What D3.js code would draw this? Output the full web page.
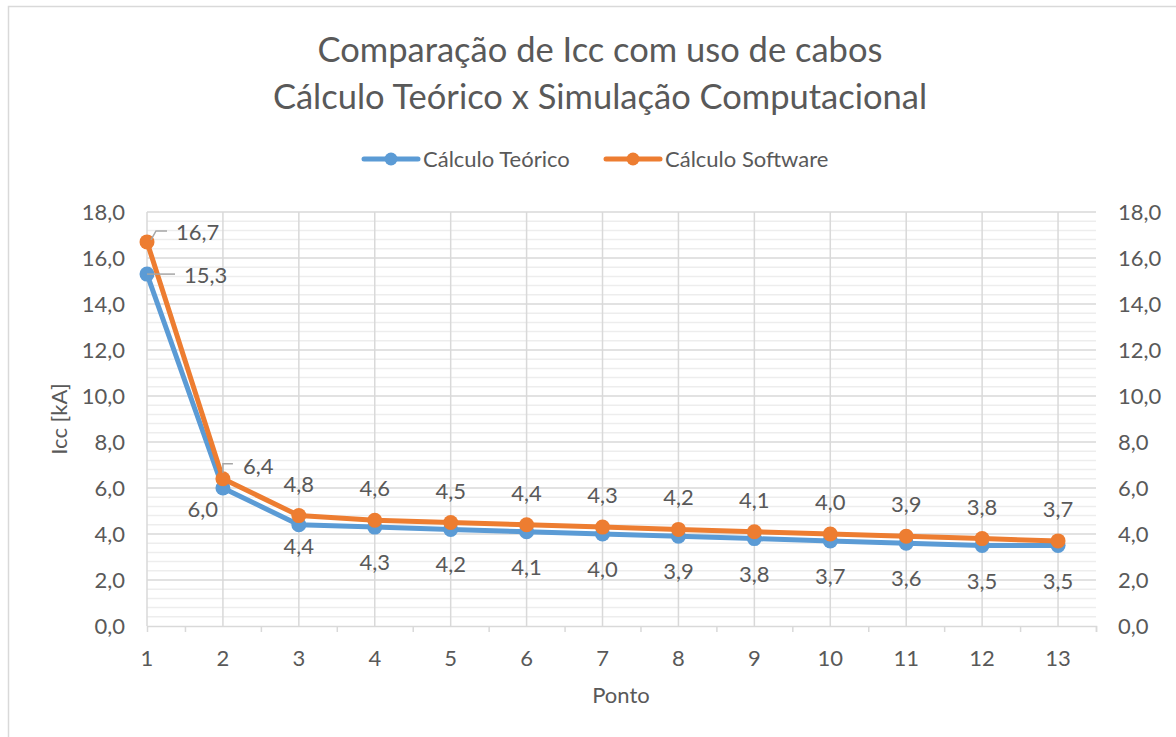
<!DOCTYPE html>
<html>
<head>
<meta charset="utf-8">
<script src="https://cdn.jsdelivr.net/npm/d3@7"></script>
<style>
html,body{margin:0;padding:0;background:#fff;}
svg{display:block;font-family:Lato,"Open Sans",sans-serif;}
</style>
</head>
<body>
<svg id="chart" width="1176" height="737"></svg>
<script>
// ---- data ----
const pontos = [1,2,3,4,5,6,7,8,9,10,11,12,13];
const teorico = [15.3,6.0,4.4,4.3,4.2,4.1,4.0,3.9,3.8,3.7,3.6,3.5,3.5];
const software = [16.7,6.4,4.8,4.6,4.5,4.4,4.3,4.2,4.1,4.0,3.9,3.8,3.7];
const seriesNames = ["Cálculo Teórico","Cálculo Software"];
const yTicks = [0,2,4,6,8,10,12,14,16,18];
const titleLines = ["Comparação de Icc com uso de cabos","Cálculo Teórico x Simulação Computacional"];

const svg = d3.select("#chart");
const W = 1176, H = 737;
const textColor = "#595959";
const colors = ["#5B9BD5","#ED7D31"];
const FS = 22;
const fmt = v => d3.format(".1f")(v).replace(".", ",");

svg.append("rect").attr("x",0).attr("y",0).attr("width",W).attr("height",H).attr("fill","#fff");
svg.append("rect").attr("x",8.5).attr("y",6.5).attr("width",1300).attr("height",900)
  .attr("fill","none").attr("stroke","#d9d9d9").attr("stroke-width",1.5);

const x = d3.scaleLinear().domain([1,13.5]).range([147,1096]);
const y = d3.scaleLinear().domain([0,18]).range([626,212]);

// minor gridlines
const minor = d3.range(0,18.001,0.4).filter(v => Math.abs(v/2 - Math.round(v/2))>1e-6);
svg.append("g").selectAll("line").data(minor).join("line")
  .attr("x1",x(1)).attr("x2",x(13.5)).attr("y1",d=>y(d)).attr("y2",d=>y(d))
  .attr("stroke","#ededed").attr("stroke-width",1.5);
// major gridlines
svg.append("g").selectAll("line").data(yTicks.filter(d=>d>0)).join("line")
  .attr("x1",x(1)).attr("x2",x(13.5)).attr("y1",d=>y(d)).attr("y2",d=>y(d))
  .attr("stroke","#d9d9d9").attr("stroke-width",1.5);
// vertical gridlines
svg.append("g").selectAll("line").data(pontos).join("line")
  .attr("x1",d=>x(d)).attr("x2",d=>x(d)).attr("y1",y(18)).attr("y2",y(0))
  .attr("stroke","#d9d9d9").attr("stroke-width",1.5);

// x axis
const xAxis = d3.axisBottom(x).tickValues(d3.range(1.5,13.51,1)).tickSize(6).tickFormat("");
const gx = svg.append("g").attr("transform",`translate(0,${y(0)})`).call(xAxis);
gx.select(".domain").attr("stroke","#d9d9d9").attr("stroke-width",1.5);
gx.selectAll(".tick line").attr("stroke","#d9d9d9").attr("stroke-width",1.5);
svg.append("g").selectAll("text").data(pontos).join("text")
  .attr("x",d=>x(d)).attr("y",y(0)+40).attr("text-anchor","middle")
  .attr("fill",textColor).attr("font-size",FS).text(d=>d);

// y axes
const yAxisL = d3.axisLeft(y).tickValues(yTicks).tickSize(0).tickPadding(22).tickFormat(fmt);
const gl = svg.append("g").attr("transform",`translate(${x(1)},0)`).call(yAxisL);
const yAxisR = d3.axisRight(y).tickValues(yTicks).tickSize(0).tickPadding(22).tickFormat(fmt);
const gr = svg.append("g").attr("transform",`translate(${x(13.5)},0)`).call(yAxisR);
[gl,gr].forEach(g=>{
  g.select(".domain").remove();
  g.selectAll("text").attr("fill",textColor).attr("font-size",FS).attr("font-family","Lato");
});

// titles
svg.append("g").selectAll("text").data(titleLines).join("text")
  .attr("x",600).attr("y",(d,i)=>62+i*47).attr("text-anchor","middle")
  .attr("fill",textColor).attr("font-size",34.5).text(d=>d);
svg.append("text").attr("x",621).attr("y",703).attr("text-anchor","middle")
  .attr("fill",textColor).attr("font-size",FS).text("Ponto");
svg.append("text").attr("transform","translate(67,419) rotate(-90)").attr("text-anchor","middle")
  .attr("fill",textColor).attr("font-size",FS).text("Icc [kA]");

// legend
const legX = [364,606];
const leg = svg.append("g").selectAll("g").data(seriesNames).join("g")
  .attr("transform",(d,i)=>`translate(${legX[i]},159)`);
leg.append("line").attr("x1",0).attr("x2",54).attr("stroke",(d,i)=>colors[i]).attr("stroke-width",5).attr("stroke-linecap","round");
leg.append("circle").attr("cx",27).attr("r",6.5).attr("fill",(d,i)=>colors[i]);
leg.append("text").attr("x",59).attr("y",8).attr("fill",textColor).attr("font-size",FS).text(d=>d);

// series
const allSeries = [teorico, software];
const line = d3.line().x((d,i)=>x(pontos[i])).y(d=>y(d));
allSeries.forEach((vals,s)=>{
  const g = svg.append("g");
  g.append("path").datum(vals).attr("d",line).attr("fill","none")
    .attr("stroke",colors[s]).attr("stroke-width",5).attr("stroke-linejoin","round").attr("stroke-linecap","round");
  g.selectAll("circle").data(vals).join("circle")
    .attr("cx",(d,i)=>x(pontos[i])).attr("cy",d=>y(d)).attr("r",7.5).attr("fill",colors[s]);
});

// data labels
const lab = svg.append("g").attr("fill",textColor).attr("font-size",FS);
const leader = svg.append("g").attr("fill","none").attr("stroke","#a6a6a6").attr("stroke-width",1.5);
allSeries.forEach((vals,s)=>{
  vals.forEach((v,i)=>{
    const px = x(pontos[i]), py = y(v);
    let tx = px, ty, anchor = "middle";
    if (i===0) {
      anchor = "start";
      if (s===1) { tx = px+29; ty = py-2;
        leader.append("path").attr("d",`M${px+4},${py-2}L${px+9},${py-11}L${px+20},${py-11}`); }
      else { tx = px+37; ty = py+9;
        leader.append("path").attr("d",`M${px},${py}L${px+28},${py}`); }
    } else if (i===1) {
      if (s===1) { anchor="start"; tx = px+20; ty = py-5;
        leader.append("path").attr("d",`M${px},${py-6}L${px},${py-15}L${px+10},${py-15}`); }
      else { anchor="end"; tx = px-5; ty = py+29; }
    } else if (s===1) { ty = py-24; }
    else { ty = py + (i===2 ? 29 : 43); }
    lab.append("text").attr("x",tx).attr("y",ty).attr("text-anchor",anchor).text(fmt(v));
  });
});
</script>
</body>
</html>
